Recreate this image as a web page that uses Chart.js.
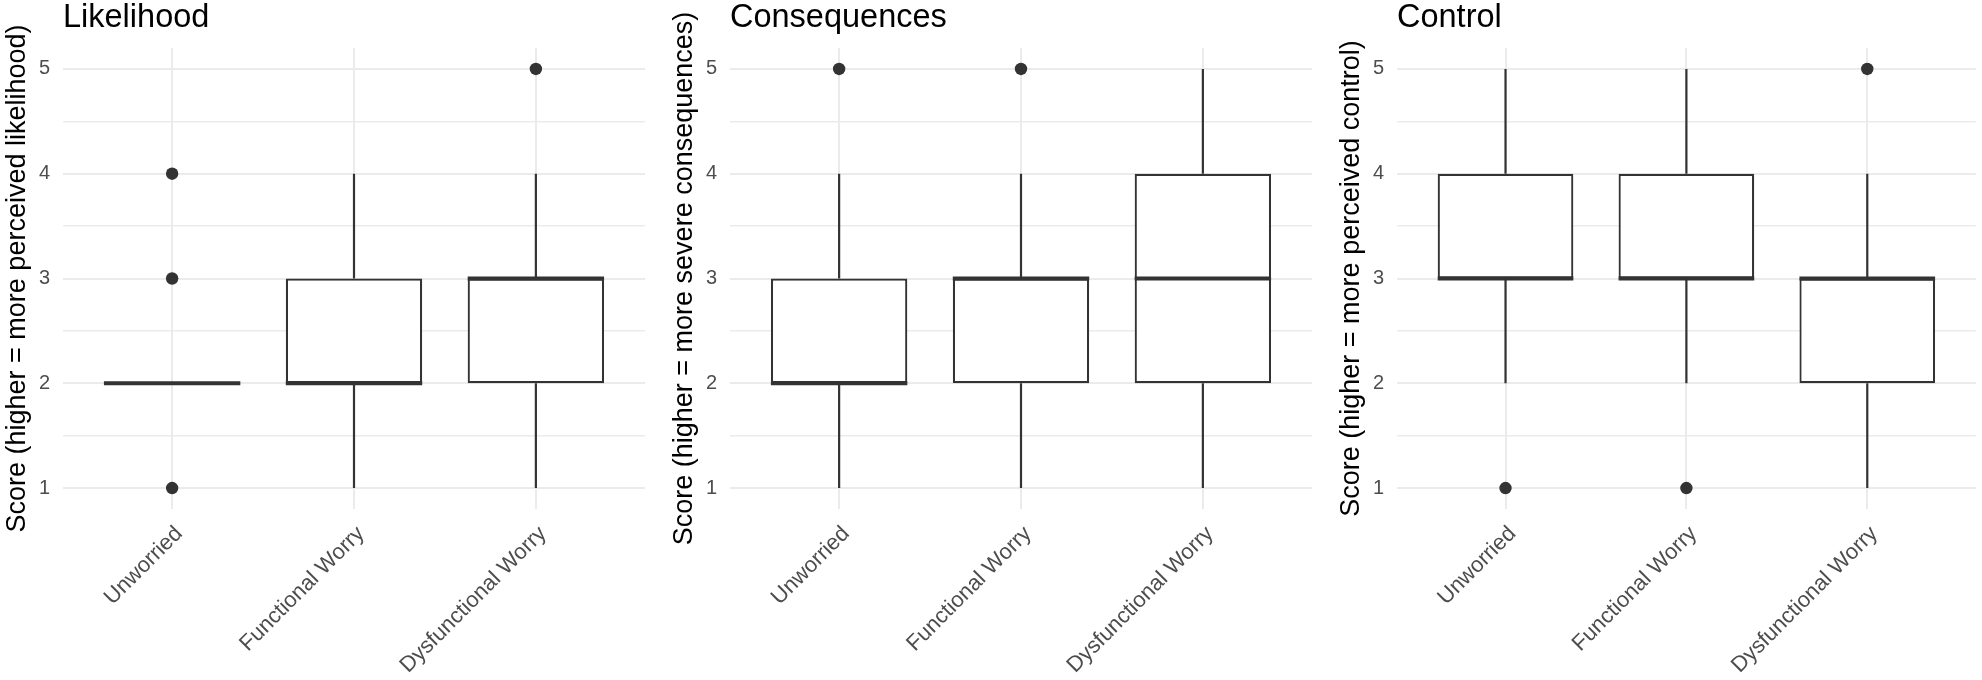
<!DOCTYPE html>
<html>
<head>
<meta charset="utf-8">
<script src="https://cdn.jsdelivr.net/npm/chart.js@4.4.1/dist/chart.umd.min.js"></script>
<style>
  html, body { margin: 0; padding: 0; background: #ffffff; width: 1982px; height: 680px; overflow: hidden; }
  .panel { position: absolute; top: 0; height: 680px; }
</style>
</head>
<body>
<div class="panel" style="left:0px;width:667px"><canvas id="c0" width="667" height="680"></canvas></div>
<div class="panel" style="left:667px;width:667px"><canvas id="c1" width="667" height="680"></canvas></div>
<div class="panel" style="left:1334px;width:648px"><canvas id="c2" width="648" height="680"></canvas></div>
<script>
// ---------- data ----------
const categories = ['Unworried', 'Functional Worry', 'Dysfunctional Worry'];
const yTickValues = [1, 2, 3, 4, 5];
const panelTitles = ['Likelihood', 'Consequences', 'Control'];
const axisTitles = [
  'Score (higher = more perceived likelihood)',
  'Score (higher = more severe consequences)',
  'Score (higher = more perceived control)'
];

// Likelihood
const likelihoodLower   = [2, 1, 1];
const likelihoodQ1      = [2, 2, 2];
const likelihoodMedian  = [2, 2, 3];
const likelihoodQ3      = [2, 3, 3];
const likelihoodUpper   = [2, 4, 4];
const likelihoodOutliers = [[1, 3, 4], [], [5]];

// Consequences
const consequencesLower   = [1, 1, 1];
const consequencesQ1      = [2, 2, 2];
const consequencesMedian  = [2, 3, 3];
const consequencesQ3      = [3, 3, 4];
const consequencesUpper   = [4, 4, 5];
const consequencesOutliers = [[5], [5], []];

// Control
const controlLower   = [2, 2, 1];
const controlQ1      = [3, 3, 2];
const controlMedian  = [3, 3, 3];
const controlQ3      = [4, 4, 3];
const controlUpper   = [5, 5, 4];
const controlOutliers = [[1], [1], [5]];

const panels = [
  { lower: likelihoodLower, q1: likelihoodQ1, med: likelihoodMedian, q3: likelihoodQ3, upper: likelihoodUpper, out: likelihoodOutliers },
  { lower: consequencesLower, q1: consequencesQ1, med: consequencesMedian, q3: consequencesQ3, upper: consequencesUpper, out: consequencesOutliers },
  { lower: controlLower, q1: controlQ1, med: controlMedian, q3: controlQ3, upper: controlUpper, out: controlOutliers }
];

// ---------- style ----------
const FONT = '"Liberation Sans", Arial, Helvetica, sans-serif';
const INK = '#333333';
const GRID = '#ebebeb';
const BOX_HALF = 0.375;       // half of box width in category units
const PLOT_RIGHT = 645;       // chart area right edge inside each panel canvas
const PLOT_TOP = 48;
const PLOT_BOTTOM = 509;
const Y_AXIS_W = 63;

const panelTitlePlugin = {
  id: 'panelTitle',
  afterDraw(chart, args, opts) {
    const ctx = chart.ctx;
    ctx.save();
    ctx.font = '32.5px ' + FONT;
    ctx.fillStyle = '#000000';
    ctx.textAlign = 'left';
    ctx.textBaseline = 'alphabetic';
    ctx.fillText(opts.text, chart.chartArea.left, 27);
    ctx.restore();
  }
};

function buildChart(idx) {
  const p = panels[idx];
  const canvas = document.getElementById('c' + idx);
  const W = canvas.width;

  const medianPts = [];
  const whiskerPts = [];
  const boxPts = [];
  const outPts = [];
  categories.forEach((c, i) => {
    medianPts.push({ x: i - BOX_HALF, y: p.med[i] }, { x: i + BOX_HALF, y: p.med[i] }, { x: i + 0.5, y: null });
    whiskerPts.push({ x: i, y: p.lower[i] }, { x: i, y: p.q1[i] }, { x: i + 0.1, y: null });
    whiskerPts.push({ x: i, y: p.q3[i] }, { x: i, y: p.upper[i] }, { x: i + 0.2, y: null });
    boxPts.push({ x: i, y: [p.q1[i], p.q3[i]] });
    p.out[i].forEach(v => outPts.push({ x: i, y: v }));
  });

  return new Chart(canvas, {
    type: 'bar',
    data: {
      datasets: [
        { type: 'line', label: 'median', data: medianPts, borderColor: INK, borderWidth: 4,
          pointRadius: 0, spanGaps: false, borderCapStyle: 'butt', tension: 0 },
        { type: 'scatter', label: 'outliers', data: outPts, backgroundColor: INK, borderWidth: 0,
          pointRadius: 6.2, pointHoverRadius: 6.2 },
        { type: 'bar', label: 'box', data: boxPts, backgroundColor: '#ffffff', borderColor: INK,
          borderWidth: 2.2, borderSkipped: false, grouped: false, barPercentage: 0.75, categoryPercentage: 1 },
        { type: 'line', label: 'whisker', data: whiskerPts, borderColor: INK, borderWidth: 2.2,
          pointRadius: 0, spanGaps: false, borderCapStyle: 'butt', tension: 0 }
      ]
    },
    options: {
      responsive: false,
      animation: false,
      events: [],
      layout: { padding: { top: PLOT_TOP, left: 0, right: W - PLOT_RIGHT, bottom: 0 } },
      plugins: {
        legend: { display: false },
        tooltip: { enabled: false },
        panelTitle: { text: panelTitles[idx] }
      },
      scales: {
        x: {
          type: 'linear',
          min: -0.6,
          max: 2.6,
          offset: false,
          afterBuildTicks: axis => { axis.ticks = categories.map((c, i) => ({ value: i })); },
          afterFit: s => { s.height = 680 - PLOT_BOTTOM; },
          ticks: {
            autoSkip: false,
            minRotation: 45,
            maxRotation: 45,
            padding: 12,
            labelOffset: 7,
            color: '#4d4d4d',
            font: { family: FONT, size: 22 },
            callback: v => categories[v]
          },
          grid: { color: GRID, lineWidth: 2, drawTicks: false, offset: false },
          border: { display: false }
        },
        y: {
          type: 'linear',
          min: 0.8,
          max: 5.2,
          afterFit: s => { s.width = Y_AXIS_W; },
          ticks: {
            stepSize: 0.5,
            includeBounds: false,
            padding: 13,
            color: '#4d4d4d',
            font: { family: FONT, size: 20 },
            callback: v => yTickValues.includes(v) ? String(v) : ''
          },
          grid: {
            color: GRID,
            drawTicks: false,
            lineWidth: ctx => Number.isInteger(ctx.tick && ctx.tick.value) ? 2 : 1.4
          },
          border: { display: false },
          title: {
            display: true,
            text: axisTitles[idx],
            color: '#000000',
            font: { family: FONT, size: 27 },
            padding: { top: 1, bottom: 0 }
          }
        }
      }
    },
    plugins: [panelTitlePlugin]
  });
}

[0, 1, 2].forEach(buildChart);
</script>
</body>
</html>
